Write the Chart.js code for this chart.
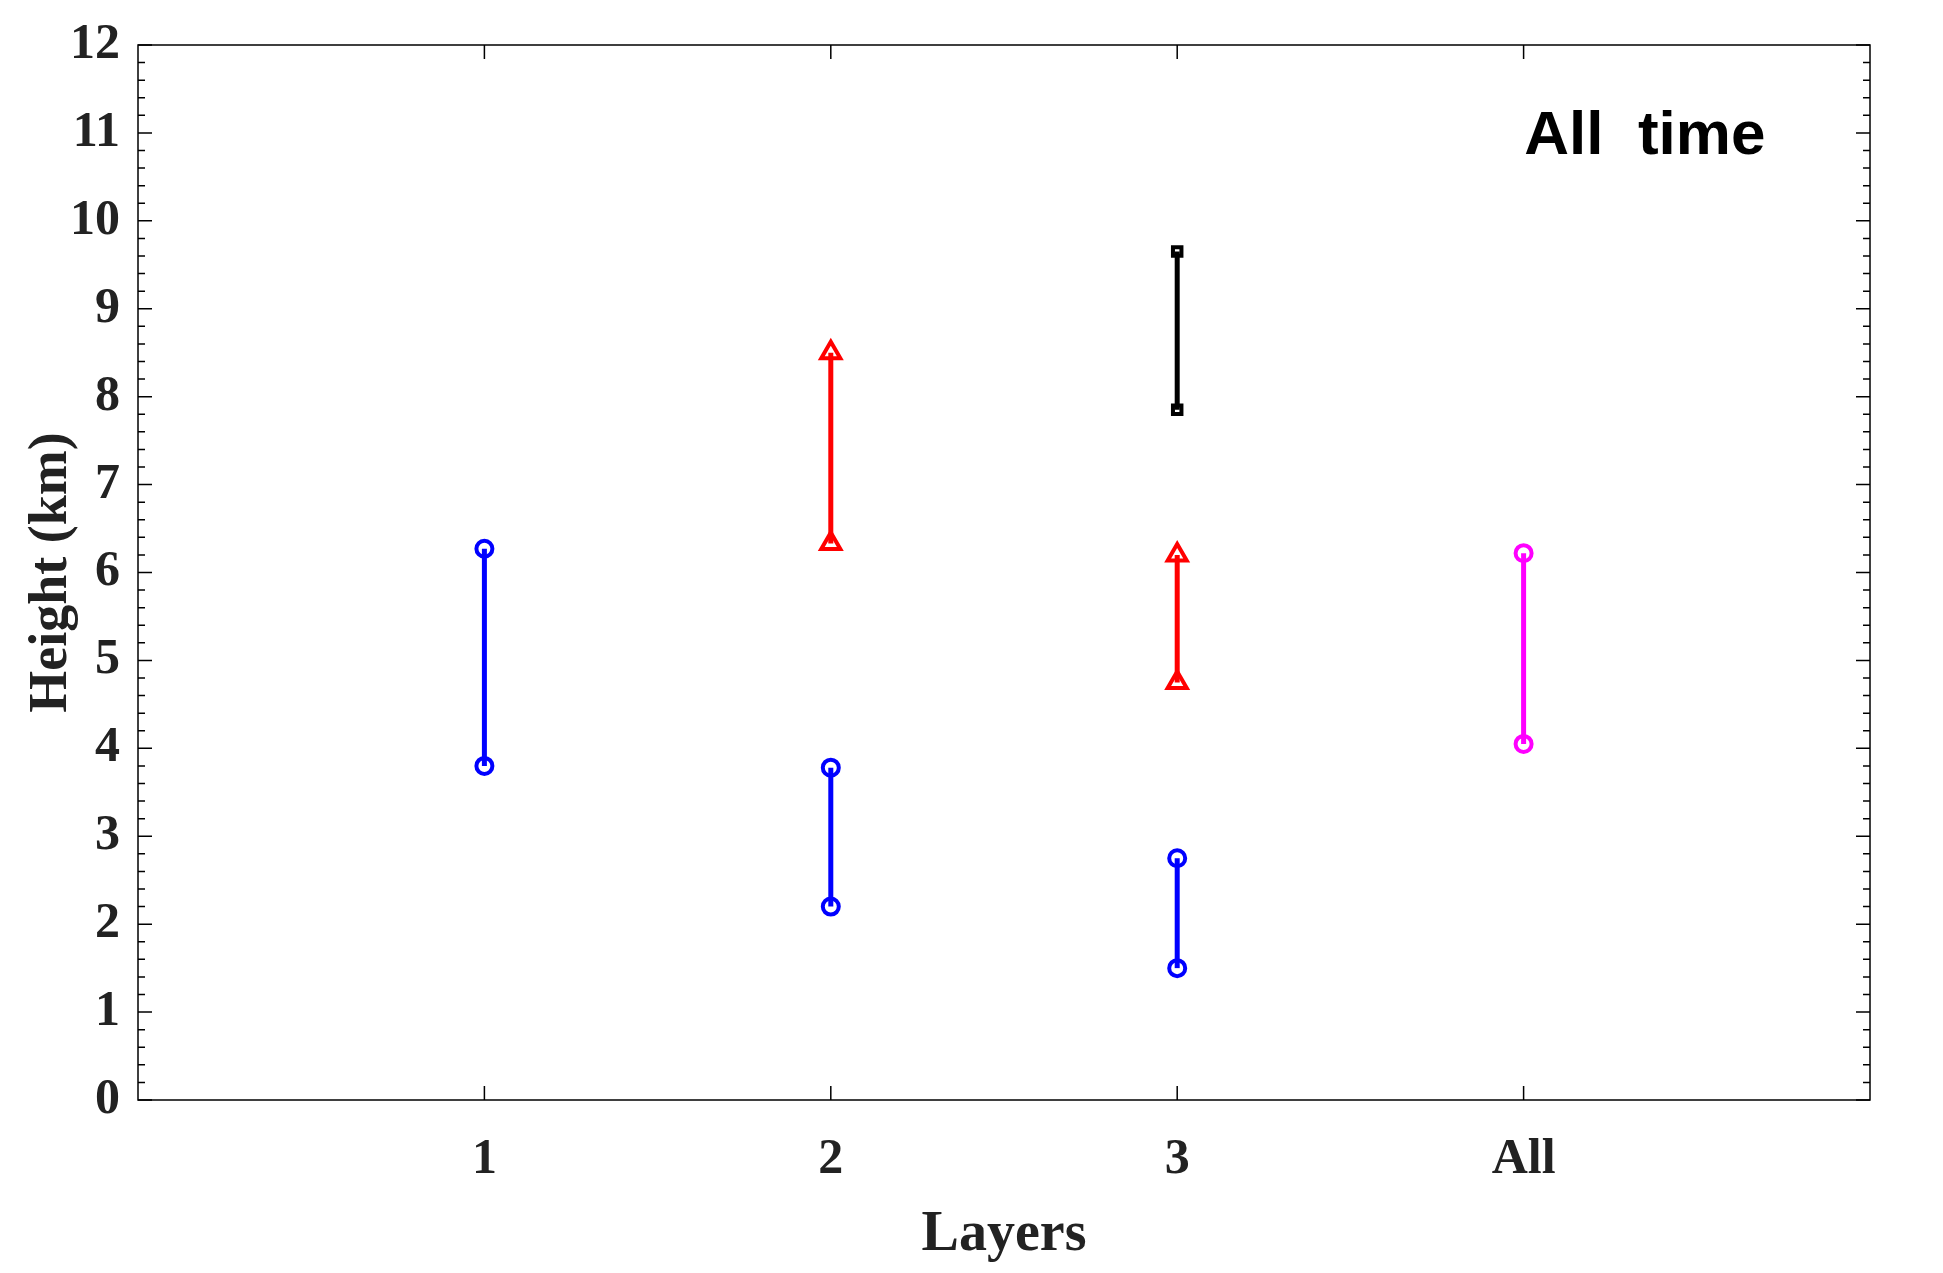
<!DOCTYPE html>
<html>
<head>
<meta charset="utf-8">
<script src="https://cdn.jsdelivr.net/npm/chart.js@4/dist/chart.umd.min.js"></script>
<style>body{margin:0;background:#fff}</style>
</head>
<body>
<canvas id="grafico" width="1943" height="1273"></canvas>
<script>
// Camadas e alturas (km)
const camadas = ['1', '2', '3', 'All'];
const azulBase = [3.8, 2.2, 1.5];
const azulTopo = [6.27, 3.78, 2.75];
const vermelhoBase = [6.33, 4.75];   // camadas 2 e 3
const vermelhoTopo = [8.5, 6.2];
const pretoBase = [7.85];            // camada 3
const pretoTopo = [9.65];
const magentaBase = [4.05];          // All
const magentaTopo = [6.22];
const ticksY = [0, 1, 2, 3, 4, 5, 6, 7, 8, 9, 10, 11, 12];

const datasets = [];
function segmento(x, a, b, cor, estilo, raio) {
  datasets.push({
    data: [{ x, y: a }, { x, y: b }],
    borderColor: cor, backgroundColor: 'rgba(0,0,0,0)',
    borderWidth: 5, pointStyle: estilo, pointRadius: raio,
    pointBorderWidth: 4, pointBorderColor: cor, showLine: true
  });
}
azulBase.forEach((v, i) => segmento(i + 1, v, azulTopo[i], '#0000ff', 'circle', 8));
vermelhoBase.forEach((v, i) => segmento(i + 2, v, vermelhoTopo[i], '#ff0000', 'triangle', 11));
pretoBase.forEach((v, i) => segmento(3, v, pretoTopo[i], '#000000', 'rect', 6));
magentaBase.forEach((v, i) => segmento(4, v, magentaTopo[i], '#ff00ff', 'circle', 8));

// moldura, marcas menores e texto "All time"
const extras = {
  id: 'extras',
  afterDraw(chart) {
    const { ctx, chartArea: a, scales: { x, y } } = chart;
    ctx.save();
    ctx.strokeStyle = '#000';
    ctx.lineWidth = 1.5;
    ctx.strokeRect(a.left, a.top, a.right - a.left, a.bottom - a.top);
    ctx.beginPath();
    for (let v = 0; v <= 12.001; v += 0.2) {
      const py = y.getPixelForValue(v);
      const maior = Math.abs(v - Math.round(v)) < 0.01;
      const len = maior ? 14 : 7;
      ctx.moveTo(a.left, py); ctx.lineTo(a.left + len, py);
      ctx.moveTo(a.right, py); ctx.lineTo(a.right - len, py);
    }
    for (let i = 1; i <= camadas.length; i++) {
      const px = x.getPixelForValue(i);
      ctx.moveTo(px, a.bottom); ctx.lineTo(px, a.bottom - 14);
      ctx.moveTo(px, a.top); ctx.lineTo(px, a.top + 14);
    }
    ctx.stroke();
    ctx.fillStyle = '#000';
    ctx.font = 'bold 62px "Liberation Sans Narrow", "Liberation Sans"';
    ctx.textAlign = 'center';
    ctx.textBaseline = 'middle';
    ctx.fillText('All  time', x.getPixelForValue(4.35), y.getPixelForValue(10.95));
    ctx.restore();
  }
};

new Chart(document.getElementById('grafico'), {
  type: 'scatter',
  data: { datasets },
  plugins: [extras],
  options: {
    responsive: false,
    animation: false,
    layout: { padding: { top: 45, right: 73, left: 0, bottom: 0 } },
    plugins: { legend: { display: false }, tooltip: { enabled: false } },
    scales: {
      x: {
        type: 'linear', min: 0, max: 5,
        afterFit: s => { s.height = 173; },
        afterBuildTicks: s => { s.ticks = camadas.map((c, i) => ({ value: i + 1 })); },
        grid: { display: false },
        border: { display: false },
        ticks: {
          callback: v => camadas[v - 1], color: '#222', padding: 22,
          font: { family: 'Liberation Serif', weight: 'bold', size: 50 }
        },
        title: {
          display: true, text: 'Layers', color: '#222',
          font: { family: 'Liberation Serif', weight: 'bold', size: 56 }
        }
      },
      y: {
        min: 0, max: 12,
        afterFit: s => { s.width = 138; },
        afterBuildTicks: s => { s.ticks = ticksY.map(v => ({ value: v })); },
        grid: { display: false },
        border: { display: false },
        ticks: {
          color: '#222', padding: 10,
          font: { family: 'Liberation Serif', weight: 'bold', size: 50 }
        },
        title: {
          display: true, text: 'Height (km)', color: '#222', padding: { top: 20, bottom: 0 },
          font: { family: 'Liberation Serif', weight: 'bold', size: 54 }
        }
      }
    }
  }
});
</script>
</body>
</html>
